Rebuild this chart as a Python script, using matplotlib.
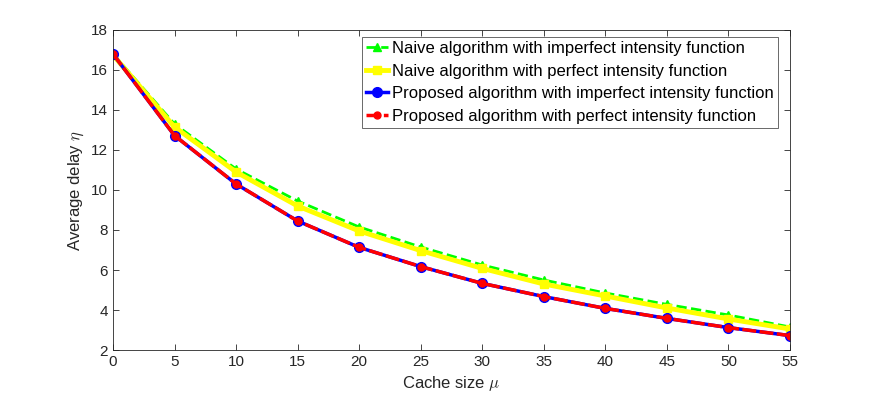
import matplotlib
matplotlib.use("Agg")
import matplotlib.pyplot as plt

plt.rcParams["font.family"] = ["Liberation Sans", "DejaVu Sans"]
plt.rcParams["mathtext.fontset"] = "cm"

# data
cache_size = [0, 5, 10, 15, 20, 25, 30, 35, 40, 45, 50, 55]
naive_imperfect = [16.8, 13.3, 11.05, 9.45, 8.15, 7.15, 6.25, 5.5, 4.85, 4.28, 3.75, 3.15]
naive_perfect = [16.75, 13.15, 10.9, 9.2, 7.95, 6.97, 6.08, 5.3, 4.7, 4.1, 3.55, 3.05]
proposed_imperfect = [16.8, 12.72, 10.3, 8.45, 7.13, 6.17, 5.33, 4.67, 4.08, 3.58, 3.12, 2.72]
proposed_perfect = [16.8, 12.72, 10.3, 8.45, 7.13, 6.17, 5.33, 4.67, 4.08, 3.58, 3.12, 2.72]

labels = [
    "Naive algorithm with imperfect intensity function",
    "Naive algorithm with perfect intensity function",
    "Proposed algorithm with imperfect intensity function",
    "Proposed algorithm with perfect intensity function",
]
xticks = list(range(0, 56, 5))
yticks = list(range(2, 19, 2))

fig = plt.figure(figsize=(8.72, 3.97), dpi=100)
ax = fig.add_axes([113 / 872, 1 - 350 / 397, 677 / 872, 320 / 397])

ax.plot(cache_size, naive_imperfect, color="#00ff00", ls="--", lw=2,
        marker="^", ms=6, mfc="#00ff00", mec="#00ff00", label=labels[0])
ax.plot(cache_size, naive_perfect, color="#ffff00", ls="-", lw=3.5,
        marker="s", ms=6, mfc="#ffff00", mec="#ffff00", label=labels[1])
ax.plot(cache_size, proposed_imperfect, color="#0000ff", ls="-", lw=2.5,
        marker="o", ms=7, mfc="#0000ff", mec="#0000ff", label=labels[2])
ax.plot(cache_size, proposed_perfect, color="#ff0000", ls=(0, (4, 1)), lw=2.5,
        marker="o", ms=5, mfc="#ff0000", mec="#ff0000", label=labels[3])

ax.set_xlim(0, 55)
ax.set_ylim(2, 18)
ax.set_xticks(xticks)
ax.set_yticks(yticks)
ax.tick_params(direction="in", length=4, width=0.6, colors="#262626",
               labelsize=11, top=True, right=True)
for s in ax.spines.values():
    s.set_color("#262626")
    s.set_linewidth(0.6)

ax.set_xlabel(r"Cache size $\mu$", fontsize=12, color="#262626")
ax.set_ylabel(r"Average delay $\eta$", fontsize=12, color="#262626")

leg = ax.legend(loc="upper right", bbox_to_anchor=(0.982, 0.978), fontsize=12,
                frameon=True, fancybox=False, edgecolor="#262626",
                borderpad=0.25, labelspacing=0.45, handlelength=1.3,
                handletextpad=0.25, borderaxespad=0)
leg.get_frame().set_linewidth(0.6)

fig.savefig("out.png", dpi=100)
